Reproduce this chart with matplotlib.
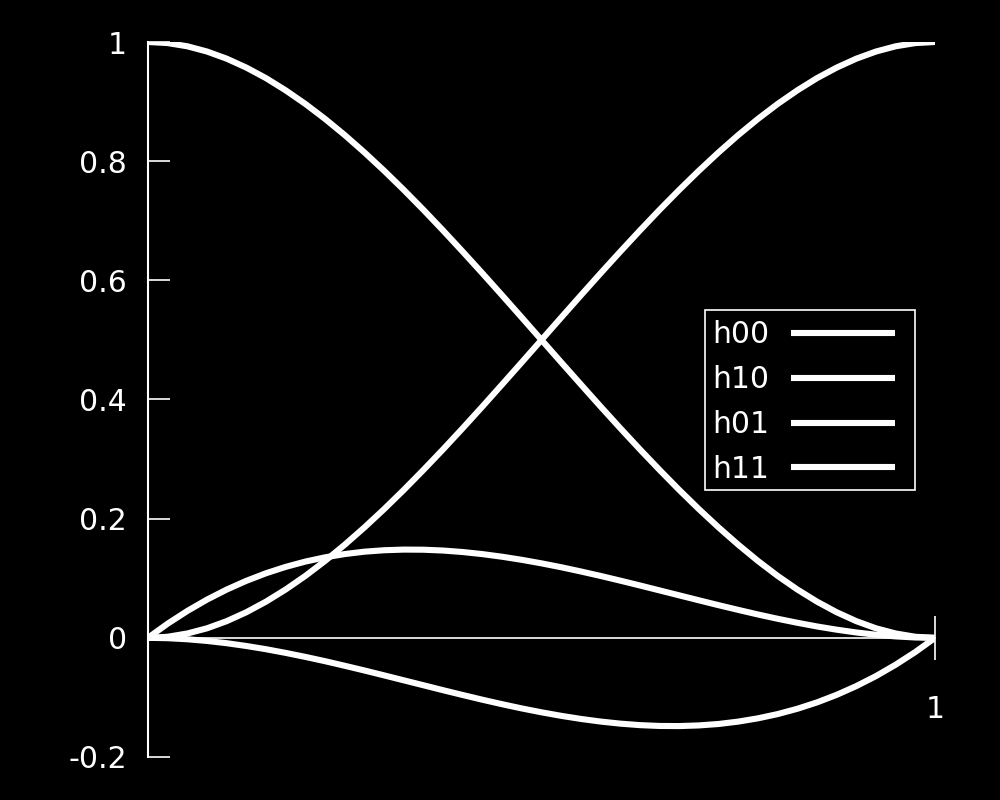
import matplotlib
matplotlib.use('Agg')
import matplotlib.pyplot as plt
from matplotlib.patches import Rectangle

# sample positions and curve values
t = [0.0, 0.025, 0.05, 0.075, 0.1, 0.125, 0.15, 0.175, 0.2, 0.225, 0.25,
     0.275, 0.3, 0.325, 0.35, 0.375, 0.4, 0.425, 0.45, 0.475, 0.5,
     0.525, 0.55, 0.575, 0.6, 0.625, 0.65, 0.675, 0.7, 0.725, 0.75,
     0.775, 0.8, 0.825, 0.85, 0.875, 0.9, 0.925, 0.95, 0.975, 1.0]
h00 = [1.0, 0.9982, 0.9928, 0.984, 0.972, 0.957, 0.9393, 0.9188, 0.896, 0.8709, 0.8438,
       0.8147, 0.784, 0.7518, 0.7183, 0.6836, 0.648, 0.6117, 0.5748, 0.5375, 0.5,
       0.4625, 0.4253, 0.3883, 0.352, 0.3164, 0.2818, 0.2482, 0.216, 0.1853, 0.1563,
       0.1291, 0.104, 0.0812, 0.0608, 0.043, 0.028, 0.016, 0.0073, 0.0018, 0.0]
h10 = [0.0, 0.0238, 0.0451, 0.0642, 0.081, 0.0957, 0.1084, 0.1191, 0.128, 0.1351, 0.1406,
       0.1446, 0.147, 0.1481, 0.1479, 0.1465, 0.144, 0.1405, 0.1361, 0.1309, 0.125,
       0.1185, 0.1114, 0.1039, 0.096, 0.0879, 0.0796, 0.0713, 0.063, 0.0548, 0.0469,
       0.0392, 0.032, 0.0253, 0.0191, 0.0137, 0.009, 0.0052, 0.0024, 0.0006, 0.0]
h01 = [0.0, 0.0018, 0.0073, 0.016, 0.028, 0.043, 0.0608, 0.0812, 0.104, 0.1291, 0.1563,
       0.1853, 0.216, 0.2482, 0.2818, 0.3164, 0.352, 0.3883, 0.4253, 0.4625, 0.5,
       0.5375, 0.5748, 0.6117, 0.648, 0.6836, 0.7183, 0.7518, 0.784, 0.8147, 0.8438,
       0.8709, 0.896, 0.9188, 0.9393, 0.957, 0.972, 0.984, 0.9928, 0.9982, 1.0]
h11 = [0.0, -0.0006, -0.0024, -0.0052, -0.009, -0.0137, -0.0191, -0.0253, -0.032, -0.0392, -0.0469,
       -0.0548, -0.063, -0.0713, -0.0796, -0.0879, -0.096, -0.1039, -0.1114, -0.1185, -0.125,
       -0.1309, -0.1361, -0.1405, -0.144, -0.1465, -0.1479, -0.1481, -0.147, -0.1446, -0.1406,
       -0.1351, -0.128, -0.1191, -0.1084, -0.0957, -0.081, -0.0642, -0.0451, -0.0238, 0.0]
names = ['h00', 'h10', 'h01', 'h11']
yticks = [-0.2, 0, 0.2, 0.4, 0.6, 0.8, 1]
ylabels = ['-0.2', '0', '0.2', '0.4', '0.6', '0.8', '1']

fig = plt.figure(figsize=(10, 8), dpi=100, facecolor='black')
ax = fig.add_axes([0.148, 0.05375, 0.787, 0.89375], facecolor='black')

for ys, name in zip([h00, h10, h01, h11], names):
    ax.plot(t, ys, color='white', lw=4.4, label=name,
            solid_joinstyle='round', solid_capstyle='butt', zorder=3)

ax.set_xlim(0, 1)
ax.set_ylim(-0.2, 1)

for s in ['top', 'right']:
    ax.spines[s].set_visible(False)
ax.spines['left'].set_color('white')
ax.spines['left'].set_linewidth(1.5)
ax.spines['bottom'].set_position(('data', 0))
ax.spines['bottom'].set_color('white')
ax.spines['bottom'].set_linewidth(1.2)

ax.set_yticks(yticks)
ax.set_yticklabels(ylabels)
ax.tick_params(axis='y', direction='in', length=16, width=1.2, pad=15,
               colors='white', labelsize=21.5)
ax.set_xticks([1])
ax.set_xticklabels(['1'])
ax.tick_params(axis='x', direction='inout', length=31, width=1.2, pad=26,
               colors='white', labelsize=21.5)

# legend box with the wide right margin of the original
box = Rectangle((705 / 1000, 1 - 490 / 800), 210 / 1000, 180 / 800,
                transform=fig.transFigure, facecolor='black',
                edgecolor='white', lw=1.2, zorder=4, clip_on=False)
ax.add_artist(box)
leg = ax.legend(loc='upper left', bbox_to_anchor=(712 / 1000, 1 - 320 / 800),
                bbox_transform=fig.transFigure, markerfirst=False, frameon=False,
                fontsize=21.5, handlelength=3.48, handletextpad=0.74,
                labelspacing=0.535, borderpad=0, borderaxespad=0,
                labelcolor='white')
leg.set_zorder(5)

fig.savefig('out.png', dpi=100, facecolor='black')
